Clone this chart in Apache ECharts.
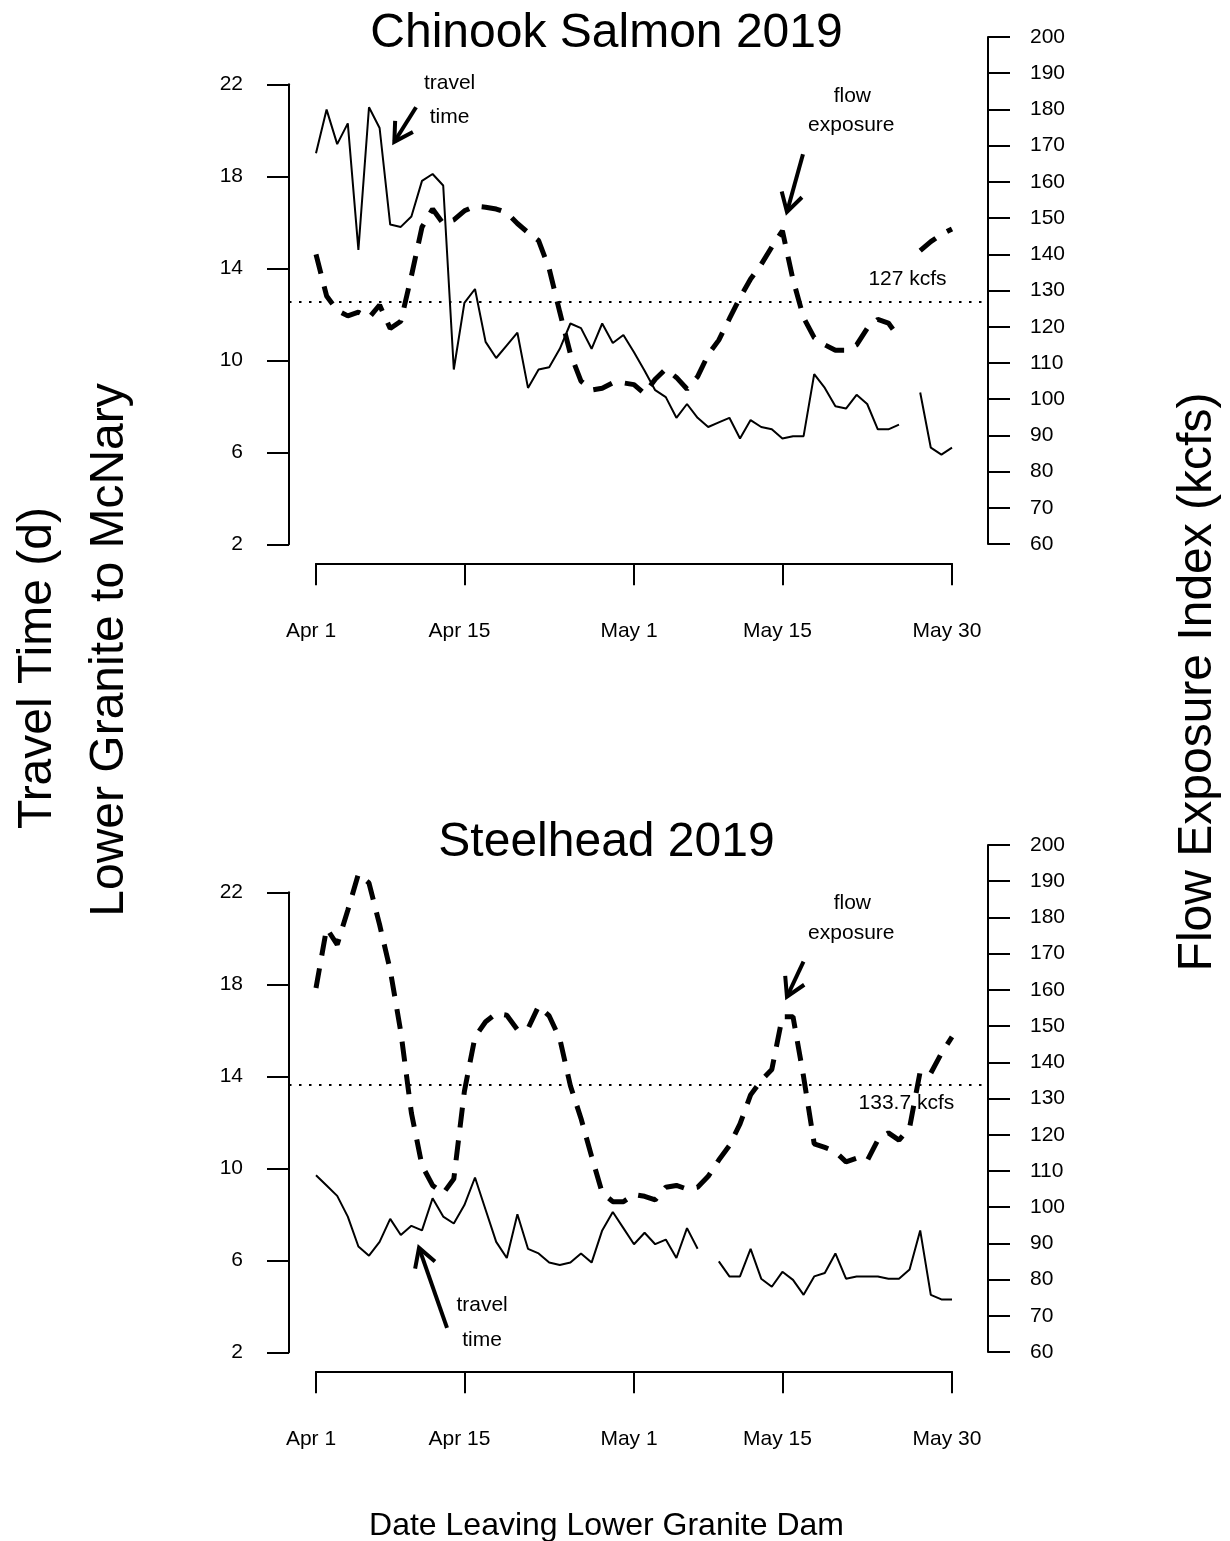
<!DOCTYPE html>
<html>
<head>
<meta charset="utf-8">
<title>Travel time and flow exposure, Lower Granite to McNary, 2019</title>
<script src="https://cdn.jsdelivr.net/npm/echarts@6/dist/echarts.min.js"></script>
<style>
  html, body { margin: 0; padding: 0; background: #ffffff; }
  #chart { width: 1230px; height: 1541px; }
</style>
</head>
<body>
<div id="chart"></div>
<script>
// ---- data: one value per day, day 0 = Apr 1 ----
const dayTicks = [0, 14, 30, 44, 60];
const dayTickLabels = ['Apr 1', 'Apr 15', 'May 1', 'May 15', 'May 30'];
const travelTicks = [2, 6, 10, 14, 18, 22];

// Chinook salmon: median travel time (d) and flow exposure index (kcfs)
const chinookTravel = [
  19.0, 20.9, 19.4, 20.3, 14.8, 21.0, 20.1, 15.9, 15.8, 16.25,
  17.8, 18.1, 17.6, 9.6, 12.5, 13.1, 10.8, 10.1, 10.65, 11.2,
  8.8, 9.6, 9.7, 10.5, 11.6, 11.4, 10.5, 11.6, 10.75, 11.1,
  10.35, 9.55, 8.7, 8.4, 7.5, 8.1, 7.5, 7.1, 7.3, 7.5,
  6.6, 7.4, 7.1, 7.0, 6.6, 6.7, 6.7, 9.4, 8.8, 8.0,
  7.9, 8.5, 8.1, 7.0, 7.0, 7.2, null, 8.6, 6.2, 5.9,
  6.2
];
const chinookFlow = [
  140, 128.5, 124.5, 123, 124, 122.5, 126, 119.5, 121.5, 134,
  147.5, 152.5, 148.5, 149.5, 152, 153.3, 153, 152.5, 151.5, 148.5,
  146, 143.8, 136, 124, 112.5, 105, 102.5, 103, 104.5, 104.5,
  104, 101.5, 105.5, 108.3, 106, 102.8, 106.2, 112.3, 116.3, 122.2,
  128, 133.2, 137.2, 142, 146.5, 133, 122.5, 117, 115, 113.5,
  113.5, 115, 119.5, 122, 121, 117, null, 141, 143.5, 145.5,
  147
];
const chinookFlowMean = 127;

// Steelhead: median travel time (d) and flow exposure index (kcfs)
const steelheadTravel = [
  9.7, 9.25, 8.8, 7.9, 6.6, 6.2, 6.8, 7.8, 7.1, 7.5,
  7.3, 8.7, 7.9, 7.6, 8.4, 9.6, 8.2, 6.8, 6.1, 8.0,
  6.5, 6.3, 5.9, 5.8, 5.9, 6.3, 5.9, 7.3, 8.1, 7.4,
  6.7, 7.2, 6.7, 6.9, 6.1, 7.4, 6.5, null, 5.95, 5.3,
  5.3, 6.5, 5.2, 4.85, 5.5, 5.15, 4.5, 5.3, 5.45, 6.3,
  5.2, 5.3, 5.3, 5.3, 5.2, 5.2, 5.6, 7.3, 4.5, 4.3,
  4.3
];
const steelheadFlow = [
  160.5, 177, 172.5, 182, 192, 189.5, 178, 165.5, 148.4, 126,
  111.5, 106, 103.8, 107.8, 132, 147, 151.2, 153.5, 153, 149,
  149.3, 155.5, 152.8, 146.5, 133.5, 124.5, 114, 104, 101.5, 101.5,
  103.5, 103, 102, 105.5, 106, 105, 105.5, 108.5, 113, 117,
  123, 131, 135, 138, 152.6, 152.6, 136, 117.5, 116.5, 115.3,
  112.5, 113.5, 112.8, 118.5, 120.5, 118.5, 122, 137.5, 137, 142.5,
  147
];
const steelheadFlowMean = 133.7;

// ---- layout ----
const FONT = "'Liberation Sans', Arial, Helvetica, sans-serif";
const INK = '#000000';
const SMALL = 21;                       // tick labels and annotations
const PANEL_STEP = 808;                 // vertical distance between the two panels
const X0 = 316, X1 = 952;               // pixel span of days 0..60
const PLOT_L = 289, PLOT_R = 988;       // plot frame (y axes sit here)
const PX_PER_DAY = (X1 - X0) / 60;
const FLOW_DAY_MIN = -(X0 - PLOT_L) / PX_PER_DAY;
const FLOW_DAY_MAX = 60 + (PLOT_R - X1) / PX_PER_DAY;
const W = 1230;

const panels = [
  {
    title: 'Chinook Salmon 2019',
    travel: chinookTravel, flow: chinookFlow, mean: chinookFlowMean,
    meanLabel: '127 kcfs', meanLabelAt: [55.8, 133],
    travelWords: [[12.6, 22.05, 'travel'], [12.6, 20.55, 'time']],
    travelArrow: { tail: [9.44, 21.0], tip: [7.39, 19.5] },
    flowWords: [[50.6, 183.7, 'flow'], [50.5, 175.7, 'exposure']],
    flowArrow: { tail: [45.94, 167.6], tip: [44.43, 151.7] }
  },
  {
    title: 'Steelhead 2019',
    travel: steelheadTravel, flow: steelheadFlow, mean: steelheadFlowMean,
    meanLabel: '133.7 kcfs', meanLabelAt: [55.7, 128.7],
    travelWords: [[15.67, 4.06, 'travel'], [15.67, 2.54, 'time']],
    travelArrow: { tail: [12.36, 3.06], tip: [9.72, 6.54] },
    flowWords: [[50.6, 184, 'flow'], [50.5, 175.7, 'exposure']],
    flowArrow: { tail: [45.99, 167.8], tip: [44.43, 158.1] }
  }
];

const toPairs = arr => arr.map((v, i) => [i, v == null ? '-' : v]);
const axisLineStyle = { color: INK, width: 2 };
const labelFont = { color: INK, fontSize: SMALL, fontFamily: FONT };

const grid = [], xAxis = [], yAxis = [], series = [];

panels.forEach((p, k) => {
  const dy = k * PANEL_STEP;
  const gTravel = grid.length;
  // travel-time frame: left axis runs from 2 to 22
  grid.push({ left: X0, right: W - X1, top: 84.3 + dy, height: 460, outerBoundsMode: 'none' });
  const gFlow = grid.length;
  // flow frame: right axis runs from 60 to 200
  grid.push({ left: PLOT_L, right: W - PLOT_R, top: 37 + dy, height: 507, outerBoundsMode: 'none' });

  xAxis.push({
    type: 'value', gridIndex: gTravel, min: 0, max: 60, position: 'bottom', offset: 19,
    axisLine: { show: true, onZero: false, lineStyle: axisLineStyle },
    axisTick: { show: true, inside: false, length: 22, customValues: dayTicks, lineStyle: axisLineStyle },
    axisLabel: {
      show: true, customValues: dayTicks, margin: 57, padding: [0, 10, 0, 0],
      formatter: v => dayTickLabels[dayTicks.indexOf(v)] || '', ...labelFont
    },
    splitLine: { show: false }
  });
  xAxis.push({
    type: 'value', gridIndex: gFlow, min: FLOW_DAY_MIN, max: FLOW_DAY_MAX, show: false,
    splitLine: { show: false }
  });

  yAxis.push({
    type: 'value', gridIndex: gTravel, min: 2, max: 22, position: 'left', offset: X0 - PLOT_L,
    axisLine: { show: true, onZero: false, lineStyle: axisLineStyle },
    axisTick: { show: true, length: 22, customValues: travelTicks, lineStyle: axisLineStyle },
    axisLabel: { show: true, customValues: travelTicks, margin: 46, ...labelFont },
    splitLine: { show: false }
  });
  yAxis.push({
    type: 'value', gridIndex: gFlow, min: 60, max: 200, interval: 10, position: 'right', offset: 0,
    axisLine: { show: true, onZero: false, lineStyle: axisLineStyle },
    axisTick: { show: true, length: 22, lineStyle: axisLineStyle },
    axisLabel: { show: true, margin: 42, showMinLabel: true, showMaxLabel: true, ...labelFont },
    splitLine: { show: false }
  });

  series.push({
    name: p.title + ' travel time', type: 'line', xAxisIndex: gTravel, yAxisIndex: gTravel,
    data: toPairs(p.travel), showSymbol: false, connectNulls: false, silent: true,
    lineStyle: { color: INK, width: 2 }, z: 3
  });
  series.push({
    name: p.title + ' flow exposure', type: 'line', xAxisIndex: gFlow, yAxisIndex: gFlow,
    data: toPairs(p.flow), showSymbol: false, connectNulls: false, silent: true,
    lineStyle: { color: INK, width: 5, type: [20, 13] }, z: 2,
    markLine: {
      silent: true, symbol: ['none', 'none'], label: { show: false },
      lineStyle: { color: INK, width: 2, type: [2.5, 7.5] },
      data: [{ yAxis: p.mean }]
    }
  });
});

const chart = echarts.init(document.getElementById('chart'), null, { renderer: 'canvas' });
chart.setOption({
  backgroundColor: '#ffffff',
  animation: false,
  grid, xAxis, yAxis, series
});

// ---- titles, axis names and arrows, placed through the axes ----
function textEl(x, y, text, size, rotation) {
  return {
    type: 'text', x, y, rotation: rotation || 0, silent: true,
    style: {
      text, fill: INK, font: size + 'px ' + FONT,
      textAlign: 'center', textVerticalAlign: 'middle',
      align: 'center', verticalAlign: 'middle'
    }
  };
}

function arrowEls(gridIndex, tail, tip) {
  const a = chart.convertToPixel({ gridIndex }, tail);
  const b = chart.convertToPixel({ gridIndex }, tip);
  const dx = a[0] - b[0], dy = a[1] - b[1];
  const len = Math.hypot(dx, dy);
  const ux = dx / len, uy = dy / len;
  const head = 21, c = Math.cos(Math.PI / 6), s = Math.sin(Math.PI / 6);
  const w1 = [b[0] + head * (ux * c - uy * s), b[1] + head * (ux * s + uy * c)];
  const w2 = [b[0] + head * (ux * c + uy * s), b[1] + head * (-ux * s + uy * c)];
  const style = { stroke: INK, lineWidth: 4, fill: null, lineCap: 'butt', lineJoin: 'miter' };
  return [
    { type: 'polyline', silent: true, shape: { points: [a, b] }, style },
    { type: 'polyline', silent: true, shape: { points: [w1, b, w2] }, style }
  ];
}

const graphics = [];
panels.forEach((p, k) => {
  const dy = k * PANEL_STEP;
  const gTravel = 2 * k, gFlow = 2 * k + 1;
  graphics.push(textEl(606.5, 33.5 + dy + (k ? 1.5 : 0), p.title, 48));
  p.travelWords.forEach(([d, v, t]) => {
    const q = chart.convertToPixel({ gridIndex: gTravel }, [d, v]);
    graphics.push(textEl(q[0], q[1], t, SMALL));
  });
  p.flowWords.forEach(([d, v, t]) => {
    const q = chart.convertToPixel({ gridIndex: gFlow }, [d, v]);
    graphics.push(textEl(q[0], q[1], t, SMALL));
  });
  const m = chart.convertToPixel({ gridIndex: gFlow }, p.meanLabelAt);
  graphics.push(textEl(m[0], m[1], p.meanLabel, SMALL));
  graphics.push(...arrowEls(gTravel, p.travelArrow.tail, p.travelArrow.tip));
  graphics.push(...arrowEls(gFlow, p.flowArrow.tail, p.flowArrow.tip));
});

graphics.push(textEl(38, 668, 'Travel Time (d)', 48, Math.PI / 2));
graphics.push(textEl(110, 650, 'Lower Granite to McNary', 48, Math.PI / 2));
graphics.push(textEl(1198, 682, 'Flow Exposure Index (kcfs)', 48, Math.PI / 2));
graphics.push(textEl(606.5, 1526.5, 'Date Leaving Lower Granite Dam', 32));

chart.setOption({ graphic: { elements: graphics } });
</script>
</body>
</html>
